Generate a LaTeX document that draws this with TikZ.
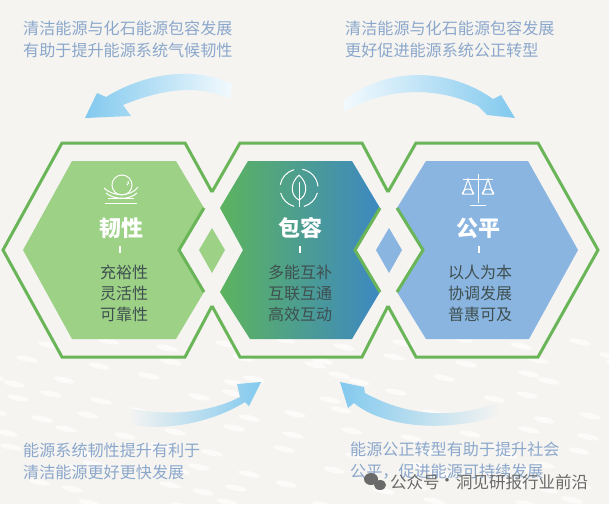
\documentclass[tikz,border=0pt]{standalone}
\usepackage{fontspec}
\setmainfont{Noto Sans CJK SC}
\usetikzlibrary{calc}
\definecolor{bgc}{HTML}{F5F4F1}
\definecolor{grn}{HTML}{69B558}
\definecolor{lgrn}{HTML}{9DD186}
\definecolor{lblu}{HTML}{89B5E0}
\definecolor{capt}{HTML}{8BA7CB}
\definecolor{subt}{HTML}{3F4F50}
\definecolor{arr}{HTML}{82C9EE}
\definecolor{wm}{HTML}{6A6A6A}
\definecolor{cl}{HTML}{5CB35E}
\definecolor{cm}{HTML}{48A088}
\definecolor{cr}{HTML}{3D88C2}
\tikzset{
  outline/.style={draw=grn,line width=3pt,line join=miter,fill=none},
  caption/.style={text=capt,font=\fontsize{16.1}{22}\selectfont,align=left,anchor=west,inner sep=0pt},
  head/.style={text=white,font=\fontsize{22}{24}\selectfont\bfseries,inner sep=0pt},
  subl/.style={text=subt,font=\fontsize{16}{21}\selectfont,align=center,inner sep=0pt},
  tick/.style={draw=white,line width=1.4pt},
  icon/.style={draw=white,line width=1pt,fill=none},
  fleck/.style={fill=white,opacity=.7,draw=none},
  wmtext/.style={text=wm,font=\fontsize{16.5}{18}\selectfont,inner sep=0pt},
}
\begin{document}
\begin{tikzpicture}[x=1pt,y=-1pt]
\useasboundingbox (0,0) rectangle (609,504);
\fill[bgc] (0,0) rectangle (609,504);
% background flecks
\foreach \r in {0,...,9}{
  \foreach \c in {0,...,10}{
    \pgfmathsetmacro{\fx}{mod(\c*59+\r*37+13*mod(\c*\r,5),640)-10}
    \pgfmathsetmacro{\fy}{338+\r*18+mod(\c*7+\r*3,11)}
    \fill[fleck,rotate around={-12:(\fx,\fy)}] (\fx,\fy) ellipse (11 and 2.8);
  }
}
% fills
\fill[lgrn] (23,250)--(72,161)--(176,161)--(204,208)--(179,250)--(204,292)--(176,339)--(72,339)--cycle;
\fill[lgrn] (212,228)--(225,250)--(212,273)--(199,250)--cycle;
\shade[left color=cl,middle color=cm,right color=cr]
  (220,208)--(248,161)--(352,161)--(380,208)--(355,250)--(380,292)--(352,339)--(250,339)--(220,292)--(243,250)--cycle;
\fill[lblu] (397,208)--(426,161)--(528,161)--(578,250)--(529,339)--(426,339)--(397,292)--(423,250)--cycle;
\fill[lblu] (389,228)--(402,250)--(389,273)--(376,250)--cycle;
% outlines
\draw[outline] (212,192)--(185,143)--(62,143)--(3,250)--(62,357)--(185,357)--(212,306);
\draw[outline] (204,208)--(179,250)--(204,292);
\draw[outline] (212,192)--(240,143)--(362,143)--(388,192);
\draw[outline] (212,306)--(240,357)--(362,357)--(388,306);
\draw[outline] (380,208)--(355,250)--(380,292);
\draw[outline] (388,192)--(416,143)--(538,143)--(598,250)--(538,357)--(416,357)--(388,306);
\draw[outline] (397,208)--(423,250)--(397,292);
% curved arrows
\shade[left color=arr,right color=white!90!arr]
  (85,118)--(97,93)--(106,97) .. controls (140,76) and (190,64) .. (232,84)--(230,99) .. controls (195,82) and (155,92) .. (123,105)--(131,116)--cycle;
\shade[left color=white!90!arr,right color=arr]
  (515,118)--(501,95)--(493,99) .. controls (455,72) and (395,62) .. (344,100)--(344,112) .. controls (390,85) and (440,88) .. (478,106)--(487,115)--cycle;
\shade[left color=bgc,right color=arr]
  (261,382)--(237,384)--(240,397) .. controls (215,410) and (175,418) .. (128,408)--(132,425) .. controls (175,432) and (220,418) .. (245,402)--(249,406)--cycle;
\shade[left color=arr,right color=bgc]
  (340,382)--(348,408)--(354,403) .. controls (380,425) and (440,435) .. (500,415)--(497,403) .. controls (450,420) and (405,415) .. (365,393)--(364,387)--cycle;
% captions
\node[caption] (c1) at (23,39) {清洁能源与化石能源包容发展\\有助于提升能源系统气候韧性};
\node[caption] (c2) at (345,39) {清洁能源与化石能源包容发展\\更好促进能源系统公正转型};
\node[caption] (c3) at (23,461) {能源系统韧性提升有利于\\清洁能源更好更快发展};
\node[caption] (c4) at (350,461) {能源公正转型有助于提升社会\\公平，促进能源可持续发展};
% hex titles
\node[head] (h1) at (121,228) {韧性};
\node[head] (h2) at (300,228) {包容};
\node[head] (h3) at (478,228) {公平};
\draw[tick] (120,246)--(120,253);
\draw[tick] (300,246)--(300,253);
\draw[tick] (479,246)--(479,253);
\node[subl] (s1) at (124,293) {充裕性\\灵活性\\可靠性};
\node[subl] (s2) at (300,293) {多能互补\\互联互通\\高效互动};
\node[subl] (s3) at (480,293) {以人为本\\协调发展\\普惠可及};
% icon: resilience
\draw[icon] (122,185) circle (10);
\draw[icon] (128,181) arc (-30:60:3);
\draw[icon] (104,188) .. controls (112,196) and (130,198) .. (138,187);
\draw[icon] (106,193) .. controls (114,200) and (130,200) .. (137,193);
\draw[icon] (105,203)--(137,203);
\draw[icon] (108,198)--(134,198);
% icon: inclusion
\draw[icon] ([shift={(299,188)}]-170:19) arc (-170:-105:19);
\draw[icon] ([shift={(299,188)}]-80:19) arc (-80:-5:19);
\draw[icon] ([shift={(299,188)}]15:19) arc (15:75:19);
\draw[icon] ([shift={(299,188)}]105:19) arc (105:165:19);
\draw[icon] (299,175) .. controls (309,184) and (307,196) .. (299,200) .. controls (291,196) and (289,184) .. (299,175);
\draw[icon] (299,182)--(299,207);
% icon: scales
\draw[icon] (463,179)--(493,179);
\draw[icon] (478,174)--(478,203);
\draw[icon] (470,205)--(486,205);
\draw[icon] (468,179)--(463,194)--(473,194)--cycle;
\draw[icon] (488,179)--(483,194)--(493,194)--cycle;
\draw[icon] (462,194) arc (180:360:6 and 5);
\draw[icon] (482,194) arc (180:360:6 and 5);
% watermark
\fill[wm] (371,479) ellipse (7 and 6);
\fill[wm] (380,485) ellipse (6 and 5);
\node[wmtext,anchor=west] (w1) at (390,482) {公众号};
\node[wmtext] (w2) at (447,482) {·};
\node[wmtext,anchor=west] (w3) at (456,482) {洞见研报行业前沿};
\end{tikzpicture}
\end{document}
